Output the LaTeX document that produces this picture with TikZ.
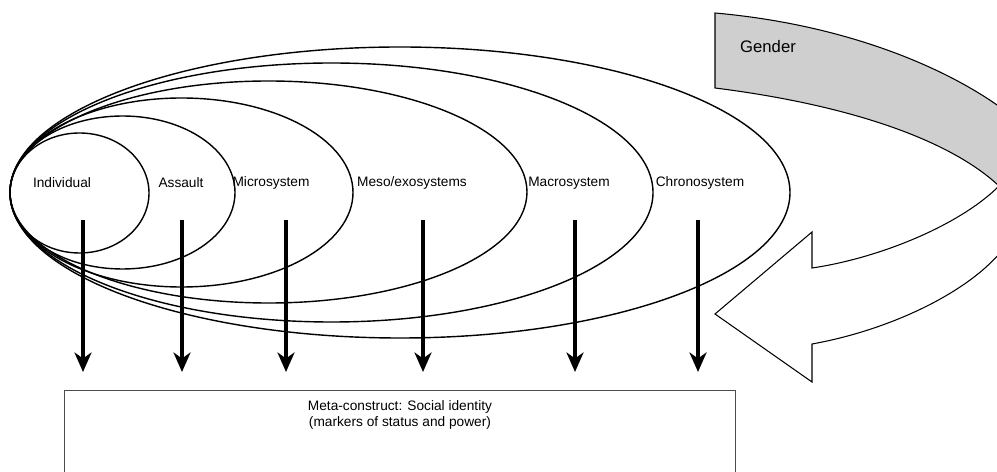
\documentclass[tikz,border=0pt]{standalone}
\usepackage{fontspec}
\setmainfont{Liberation Sans}
\usetikzlibrary{arrows.meta}

\tikzset{
	sys/.style = {line width=0.8pt},
	lab/.style = {font=\fontsize{7.8}{9}\selectfont, inner sep=0pt},
	down/.style = {->, line width=2pt, shorten >=0.36cm},
	band/.style = {line width=0.6pt, line join=miter}
}

\begin{document}
\begin{tikzpicture}[>={Stealth[length=3.9mm, width=3.4mm, inset=1.2mm]}, x=0.02cm, y=-0.02cm]
	%%%	Help Lines
%	\draw [thin, help lines] (0,0) grid[step=50] (997,472);
	\useasboundingbox (0,0) rectangle (997,472);
	\clip (0,0) rectangle (997,472);
	%%%	Sistemi
	\draw[sys] (79.5,193) ellipse [x radius=69.5, y radius=60];
	\draw[sys] (122.5,192.5) ellipse [x radius=112.5, y radius=76.5];
	\draw[sys] (181.5,192.5) ellipse [x radius=171.5, y radius=94.5];
	\draw[sys] (268.5,192) ellipse [x radius=258.5, y radius=111];
	\draw[sys] (331.5,192.5) ellipse [x radius=321.5, y radius=129.5];
	\draw[sys] (400,192.5) ellipse [x radius=390, y radius=145.5];
	\node[lab] (ind) at (62,183) {Individual};
	\node[lab] (ass) at (181,183) {Assault};
	\node[lab] (mic) at (271,183) {Microsystem};
	\node[lab] (mes) at (412,183) {Meso/exosystems};
	\node[lab] (mac) at (569,183) {Macrosystem};
	\node[lab] (chr) at (700,183) {Chronosystem};
	%%%	Meta-construct
	\node[draw=black!70, line width=0.6pt, anchor=north west, minimum width=13.42cm, minimum height=2.4cm, inner sep=0pt] (meta) at (64,390) {};
	\node[lab, align=center, anchor=north] (metatxt) at ([yshift=-0.2cm]meta.north) {Meta-construct: Social identity\\(markers of status and power)};
	% Frecce
	\coordinate (aind) at (83,220);
	\coordinate (aass) at (182,220);
	\coordinate (amic) at (286,220);
	\coordinate (ames) at (423,220);
	\coordinate (amac) at (575,220);
	\coordinate (achr) at (698,220);
	\foreach \a in {aind, aass, amic, ames, amac, achr}
	\draw[down] (\a) -- (\a |- meta.north);
	%%%	Gender
	\filldraw[band, fill=black!19] (715,13) -- (715,88) .. controls (850,105) and (950,140) .. (999,186)
		-- (1004,110) .. controls (950,70) and (850,25) .. (715,13) -- cycle;
	\filldraw[band, fill=white] (999,186) .. controls (960,225) and (880,258) .. (812,268) -- (812,232)
		-- (715,314) -- (812,382) -- (812,344) .. controls (890,330) and (970,292) .. (1004,248);
	\node[lab, font=\fontsize{9.5}{11}\selectfont] (gender) at (768,47) {Gender};
\end{tikzpicture}
\end{document}
